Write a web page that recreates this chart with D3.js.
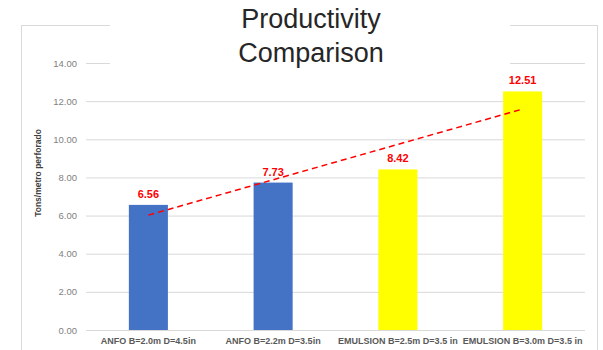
<!DOCTYPE html>
<html lang="en">
<head>
    <meta charset="UTF-8">
    <script src="https://d3js.org/d3.v7.min.js"></script>
    <title>Productivity Comparison</title>
    <style>
        body { margin: 0; background: #fff; }
        text { font-family: "Liberation Sans", Arial, sans-serif; }
    </style>
</head>
<body>
    <svg id="chart" width="603" height="350"></svg>

    <script>
        // data
        const categories = ["ANFO B=2.0m D=4.5in", "ANFO B=2.2m D=3.5in",
            "EMULSION B=2.5m D=3.5 in", "EMULSION B=3.0m D=3.5 in"];
        const values = [6.56, 7.73, 8.42, 12.51];
        const barColors = ["#4472C4", "#4472C4", "#FFFF00", "#FFFF00"];
        const yTicks = [0, 2, 4, 6, 8, 10, 12, 14];

        const svg = d3.select("#chart");

        const x = d3.scaleBand()
            .domain(categories)
            .range([86, 585])
            .padding(0);

        const y = d3.scaleLinear()
            .domain([0, 14])
            .range([330, 63]);

        const barWidth = x.bandwidth() * 0.313;

        // chart frame
        svg.append("rect")
            .attr("x", 21.5).attr("y", 25.5)
            .attr("width", 576).attr("height", 340)
            .attr("fill", "none")
            .attr("stroke", "#d9d9d9");

        // gridlines
        const yAxis = d3.axisLeft(y)
            .tickValues(yTicks)
            .tickSize(-(585 - 86))
            .tickPadding(9)
            .tickFormat(d3.format(".2f"));

        const gy = svg.append("g")
            .attr("transform", "translate(86,0)")
            .call(yAxis);
        gy.select(".domain").remove();
        gy.selectAll(".tick line").attr("stroke", "#d9d9d9");
        gy.selectAll(".tick text")
            .attr("fill", "#7f7f7f")
            .style("font-size", "9.5px")
            .style("font-family", "'Liberation Sans', Arial, sans-serif");

        // title box sits over the frame and the top gridline
        svg.append("rect")
            .attr("x", 110).attr("y", 0)
            .attr("width", 400).attr("height", 72)
            .attr("fill", "#fff");

        svg.append("text")
            .attr("x", 311).attr("y", 28)
            .attr("text-anchor", "middle")
            .attr("fill", "#262626")
            .style("font-size", "27px")
            .text("Productivity");
        svg.append("text")
            .attr("x", 311).attr("y", 62)
            .attr("text-anchor", "middle")
            .attr("fill", "#262626")
            .style("font-size", "27px")
            .text("Comparison");

        // bars
        svg.selectAll(".bar")
            .data(values)
            .enter()
            .append("rect")
            .attr("class", "bar")
            .attr("x", (d, i) => x(categories[i]) + (x.bandwidth() - barWidth) / 2)
            .attr("y", d => y(d))
            .attr("width", barWidth)
            .attr("height", d => y(0) - y(d))
            .attr("fill", (d, i) => barColors[i]);

        // data labels
        svg.selectAll(".label")
            .data(values)
            .enter()
            .append("text")
            .attr("class", "label")
            .attr("x", (d, i) => x(categories[i]) + x.bandwidth() / 2)
            .attr("y", d => y(d) - 7)
            .attr("text-anchor", "middle")
            .attr("fill", "#ff0000")
            .style("font-size", "11px")
            .style("font-weight", "bold")
            .text(d => d.toFixed(2));

        // category labels
        svg.selectAll(".cat")
            .data(categories)
            .enter()
            .append("text")
            .attr("class", "cat")
            .attr("x", d => x(d) + x.bandwidth() / 2)
            .attr("y", 344)
            .attr("text-anchor", "middle")
            .attr("fill", "#595959")
            .style("font-size", "9px")
            .style("font-weight", "bold")
            .text(d => d);

        // axis title
        svg.append("text")
            .attr("transform", "translate(41,173) rotate(-90)")
            .attr("text-anchor", "middle")
            .attr("fill", "#404040")
            .style("font-size", "8.5px")
            .style("font-weight", "bold")
            .text("Tons/metro perforado");

        // linear trendline (least squares over category index)
        const idx = values.map((d, i) => i + 1);
        const mx = d3.mean(idx), my = d3.mean(values);
        const slope = d3.sum(idx, (d, i) => (d - mx) * (values[i] - my)) /
            d3.sum(idx, d => (d - mx) * (d - mx));
        const icpt = my - slope * mx;

        const trend = categories.map((c, i) => [x(c) + x.bandwidth() / 2, y(icpt + slope * (i + 1))]);

        svg.append("path")
            .datum([trend[0], trend[trend.length - 1]])
            .attr("d", d3.line())
            .attr("fill", "none")
            .attr("stroke", "#ff0000")
            .attr("stroke-width", 1.5)
            .attr("stroke-dasharray", "6,4");
    </script>
</body>
</html>
